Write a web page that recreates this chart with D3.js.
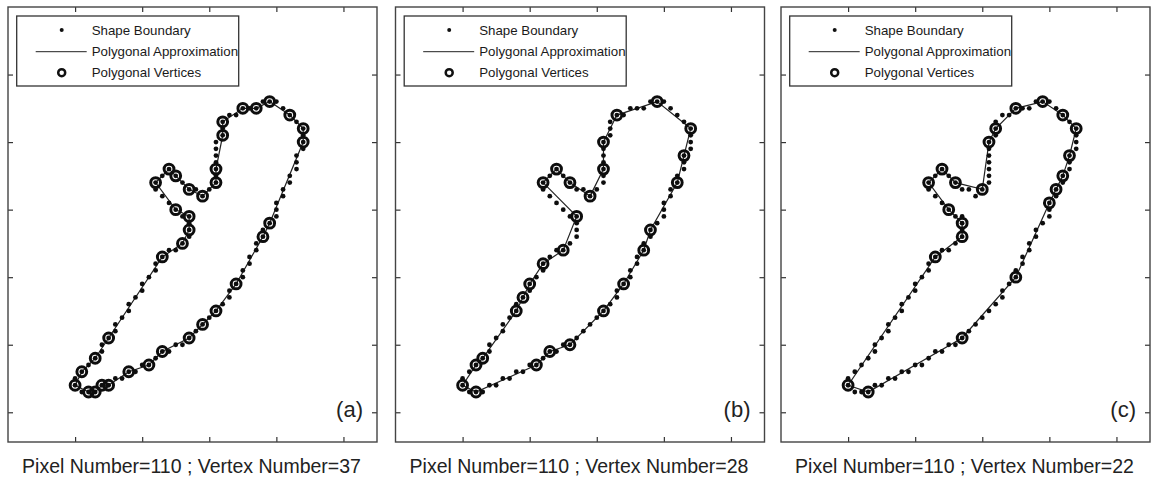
<!DOCTYPE html>
<html>
<head>
<meta charset="utf-8">
<script src="https://cdn.jsdelivr.net/npm/d3@7"></script>
<style>
  body { margin: 0; background: #fff; }
  svg { display: block; font-family: "Liberation Sans", Arial, sans-serif; }
</style>
</head>
<body>
<div id="chart"></div>
<script>
// boundary pixels of the shape (column, row), traced in order
const boundary = [
  [10,56],[11,57],[12,57],[13,57],[14,56],[15,56],[16,55],[17,55],[18,54],[19,54],
  [20,53],[21,53],[22,52],[23,51],[24,51],[25,50],[26,50],[27,49],[28,48],[29,47],
  [30,46],[31,45],[32,44],[33,43],[33,42],[34,41],[35,40],[35,39],[36,38],[36,37],
  [37,36],[37,35],[38,34],[38,33],[39,32],[40,31],[40,30],[40,29],[41,28],[41,27],
  [42,26],[42,25],[43,24],[43,23],[43,22],[44,21],[44,20],[44,19],[44,18],[43,17],
  [42,16],[41,15],[40,14],[39,14],[38,14],[37,15],[36,15],[35,15],[34,16],[33,16],
  [32,17],[32,18],[32,19],[31,20],[31,21],[31,22],[31,23],[31,24],[31,25],[31,26],
  [30,27],[29,28],[28,27],[27,27],[26,26],[25,25],[24,24],[23,25],[22,26],[22,27],
  [23,28],[24,29],[25,30],[26,31],[27,31],[27,32],[27,33],[27,34],[26,35],[25,36],
  [24,36],[23,37],[22,38],[22,39],[21,40],[20,41],[20,42],[19,43],[18,44],[18,45],
  [17,46],[16,47],[16,48],[15,49],[14,50],[14,51],[13,52],[12,53],[11,54],[10,55]
];

// indices into boundary that were kept as polygon vertices
const verticesA = [0,2,3,4,5,8,11,13,17,19,21,25,32,34,46,48,50,53,55,57,60,62,67,69,71,73,75,76,78,82,84,86,88,91,103,106,108];
const verticesB = [0,2,11,13,16,21,25,30,33,40,44,48,53,59,63,67,71,74,76,78,84,89,92,95,97,99,106,107];
const verticesC = [0,3,17,26,37,39,41,44,48,50,53,57,61,63,70,74,76,78,82,85,87,91];

const panelLabels = ["(a)", "(b)", "(c)"];
const xTicks = [10, 20, 30, 40, 50];
const yTicks = [10, 20, 30, 40, 50, 60];
const legendLabels = ["Shape Boundary", "Polygonal Approximation", "Polygonal Vertices"];

const panels = [
  {label: panelLabels[0], idx: verticesA, left: 8},
  {label: panelLabels[1], idx: verticesB, left: 395.5},
  {label: panelLabels[2], idx: verticesC, left: 781}
];

const width = 1159, height = 481;
const W = 369, H = 435, topY = 7;

const svg = d3.select("#chart").append("svg")
  .attr("width", width)
  .attr("height", height);

// the source is a slightly soft scan, so the marks get a light blur
svg.append("defs").append("filter")
  .attr("id", "soft")
  .append("feGaussianBlur")
  .attr("stdDeviation", 0.45);

const x = d3.scaleLinear().domain([0, 55]).range([0, W]);
const y = d3.scaleLinear().domain([0, 64.4]).range([0, H]);

const line = d3.line()
  .x(function(d) { return x(d[0]); })
  .y(function(d) { return y(d[1]); });

panels.forEach(function(p) {
  const g = svg.append("g").attr("transform", "translate(" + p.left + "," + topY + ")");

  // inward ticks on all four sides
  const axes = [
    {ax: d3.axisBottom(x).tickValues(xTicks), t: "translate(0," + H + ")"},
    {ax: d3.axisTop(x).tickValues(xTicks), t: "translate(0,0)"},
    {ax: d3.axisLeft(y).tickValues(yTicks), t: "translate(0,0)"},
    {ax: d3.axisRight(y).tickValues(yTicks), t: "translate(" + W + ",0)"}
  ];
  axes.forEach(function(a) {
    const ag = g.append("g")
      .attr("transform", a.t)
      .call(a.ax.tickSize(-5).tickSizeOuter(0).tickFormat(""));
    ag.select(".domain").remove();
    ag.selectAll("line").attr("stroke", "#333").attr("stroke-width", 1.2);
  });

  g.append("rect")
    .attr("width", W).attr("height", H)
    .attr("fill", "none")
    .attr("stroke", "#444")
    .attr("stroke-width", 1.4);

  const verts = p.idx.map(function(i) { return boundary[i]; });
  const marks = g.append("g").attr("filter", "url(#soft)");

  // polygonal approximation
  marks.append("path")
    .datum(verts.concat([verts[0]]))
    .attr("d", line)
    .attr("fill", "none")
    .attr("stroke", "#222")
    .attr("stroke-width", 1.2);

  // boundary pixels
  marks.selectAll("circle.dot").data(boundary).enter().append("circle")
    .attr("class", "dot")
    .attr("cx", function(d) { return x(d[0]); })
    .attr("cy", function(d) { return y(d[1]); })
    .attr("r", 2.4)
    .attr("fill", "#111");

  // vertices
  marks.selectAll("circle.vtx").data(verts).enter().append("circle")
    .attr("class", "vtx")
    .attr("cx", function(d) { return x(d[0]); })
    .attr("cy", function(d) { return y(d[1]); })
    .attr("r", 4.9)
    .attr("fill", "none")
    .attr("stroke", "#111")
    .attr("stroke-width", 3);

  g.append("text")
    .attr("x", 355).attr("y", 410)
    .attr("text-anchor", "end")
    .attr("font-size", 22)
    .attr("fill", "#222")
    .text(p.label);

  // legend
  const lg = g.append("g").attr("transform", "translate(8.7,9)");
  lg.append("rect")
    .attr("width", 222).attr("height", 70)
    .attr("fill", "#fff")
    .attr("stroke", "#333")
    .attr("stroke-width", 1.3);
  const rows = [14, 35.7, 56.7];
  lg.append("circle").attr("cx", 45).attr("cy", rows[0]).attr("r", 2).attr("fill", "#111");
  lg.append("line").attr("x1", 19).attr("x2", 70).attr("y1", rows[1]).attr("y2", rows[1])
    .attr("stroke", "#222").attr("stroke-width", 1);
  lg.append("circle").attr("cx", 45).attr("cy", rows[2]).attr("r", 3.5)
    .attr("fill", "none").attr("stroke", "#111").attr("stroke-width", 2.5);
  lg.selectAll("text").data(legendLabels).enter().append("text")
    .attr("x", 75)
    .attr("y", function(d, i) { return rows[i] + 4.6; })
    .attr("font-size", 13.3)
    .attr("fill", "#1a1a1a")
    .text(function(d) { return d; });

  // caption under the panel
  svg.append("text")
    .attr("x", p.left + W / 2 - 1)
    .attr("y", 473)
    .attr("text-anchor", "middle")
    .attr("font-size", 19.5)
    .attr("fill", "#222")
    .text("Pixel Number=" + boundary.length + " ; Vertex Number=" + p.idx.length);
});
</script>
</body>
</html>
